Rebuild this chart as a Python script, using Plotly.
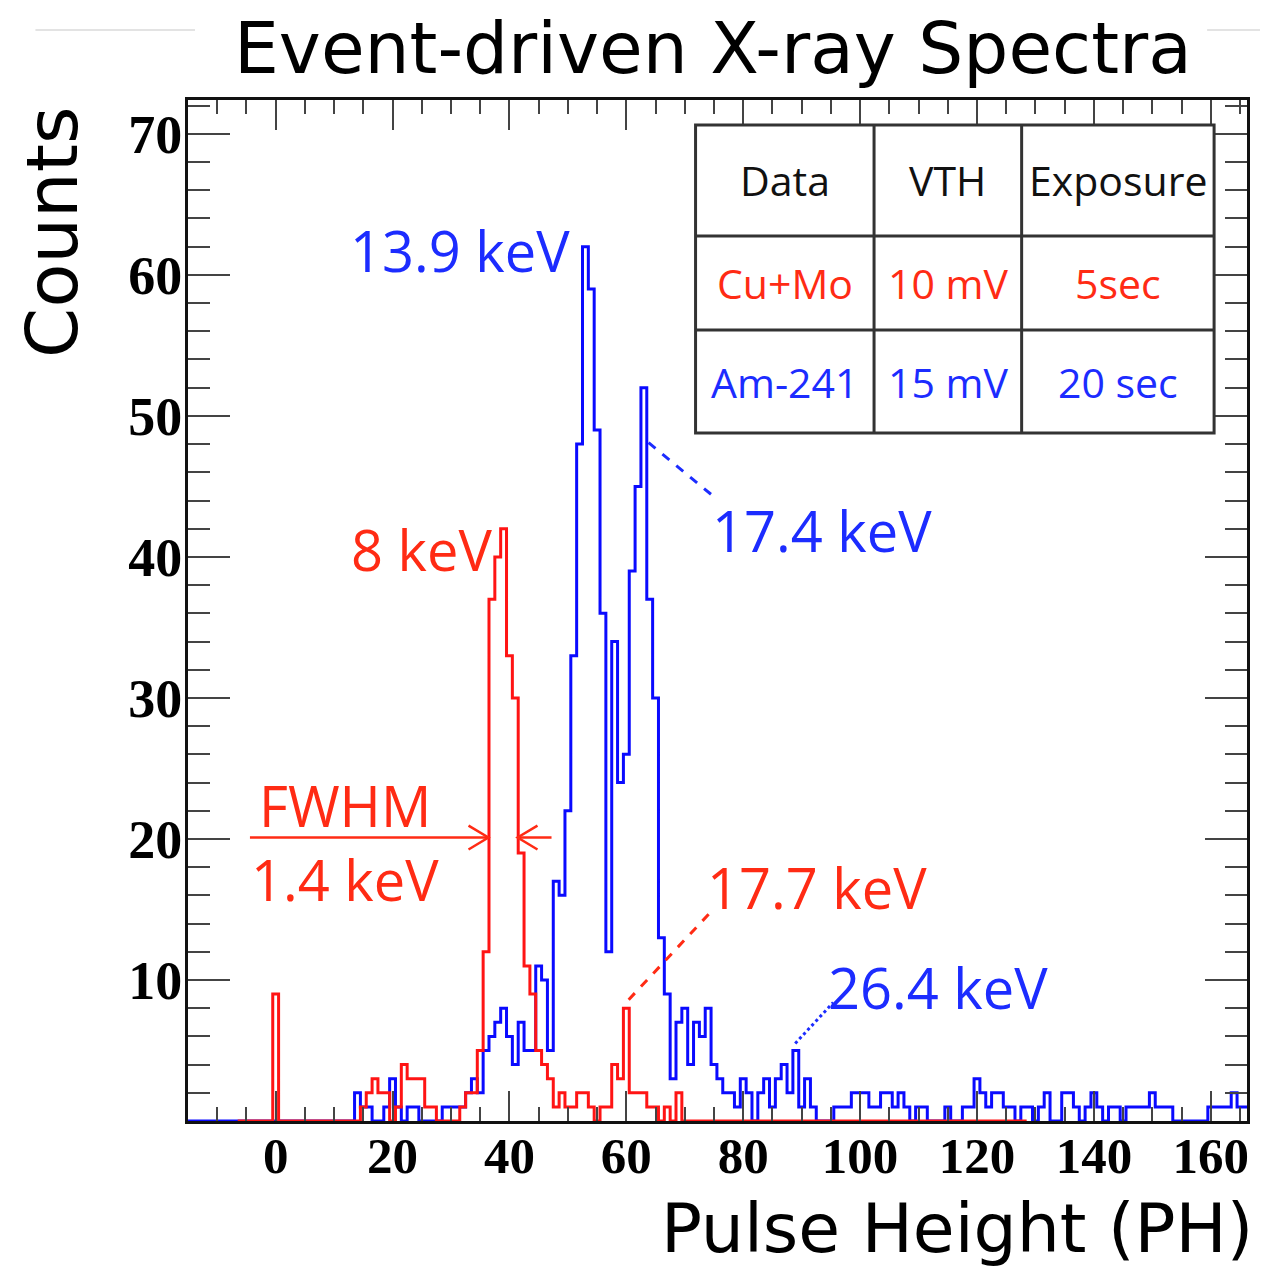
import plotly.graph_objects as go

# ---------------- data ----------------
bin_width = 1.0

blue_first_bin = -15
blue_counts = (
    [0] * 29 +                                   # -15 .. 13
    [2, 1, 1, 0, 0, 1, 3, 1, 0, 1,               # 14 .. 23
     1, 0, 0, 0, 0, 1, 1, 1, 1, 2,               # 24 .. 33
     3, 2, 5, 6, 7, 8, 6, 4, 7, 5,               # 34 .. 43
     5, 11, 10, 5, 17, 16, 22, 33, 48, 62,       # 44 .. 53
     59, 49, 36, 12, 34, 24, 26, 39, 45, 52,     # 54 .. 63
     37, 30, 13, 9, 3, 7, 8, 4, 7, 6,            # 64 .. 73
     8, 4, 3, 2, 2, 1, 3, 2, 0, 2,               # 74 .. 83
     3, 1, 3, 4, 2, 5, 1, 3, 1, 0,               # 84 .. 93
     0, 0, 1, 1, 1, 2, 2, 2, 1, 1,               # 94 .. 103
     2, 2, 1, 2, 1, 0, 1, 1, 0, 0,               # 104 .. 113
     0, 1, 0, 0, 1, 1, 3, 2, 1, 2,               # 114 .. 123
     2, 1, 1, 0, 1, 1, 0, 1, 2, 0,               # 124 .. 133
     0, 2, 2, 1, 0, 1, 2, 1, 0, 1,               # 134 .. 143
     1, 0, 1, 1, 1, 1, 2, 1, 1, 1,               # 144 .. 153
     0, 0, 0, 0, 0, 0, 1, 1, 1, 1,               # 154 .. 163
     2, 1, 1]                                    # 164 .. 166
)

red_first_bin = -6
red_counts = (
    [0] * 6 +                                    # -6 .. -1
    [9] +                                        # 0
    [0] * 14 +                                   # 1 .. 14
    [1, 2, 3, 2, 2, 0, 1, 4, 3, 3,               # 15 .. 24
     3, 1, 1, 0, 0, 0, 0, 1, 2, 2,               # 25 .. 34
     5, 12, 37, 40, 42, 33, 30, 19, 11, 9,       # 35 .. 44
     5, 4, 3, 1, 2, 1, 1, 2, 2, 1,               # 45 .. 54
     0, 1, 1, 4, 3, 8, 2, 2, 2, 1,               # 55 .. 64
     1, 0, 1, 0, 2, 0] +                         # 65 .. 70
    [0] * 58                                     # 71 .. 128
)

x_tick_vals = [0, 20, 40, 60, 80, 100, 120, 140, 160]
y_tick_vals = [0, 10, 20, 30, 40, 50, 60, 70]
y_tick_text = ["", "10", "20", "30", "40", "50", "60", "70"]

table_header = ["Data", "VTH", "Exposure"]
table_rows = [["Cu+Mo", "10 mV", "5sec"],
              ["Am-241", "15 mV", "20 sec"]]

peak_labels = [  # text, x, y, colour key
    ("13.9 keV", 31.6, 62.2, "blue"),
    ("17.4 keV", 93.5, 42.3, "blue"),
    ("26.4 keV", 113.3, 9.9, "blue"),
    ("8 keV", 24.9, 41.0, "red"),
    ("FWHM", 11.8, 22.8, "red"),
    ("1.4 keV", 11.9, 17.6, "red"),
    ("17.7 keV", 92.7, 17.0, "red"),
]

# ---------------- styles ----------------
BLUE_LINE = "#0a0aff"
RED_LINE = "#ff1414"
BLUE_TXT = "#1c2cff"
RED_TXT = "#ff2b14"
LABEL_FONT = "Open Sans"
TXT_COLORS = {"blue": BLUE_TXT, "red": RED_TXT}


def step_xy(first, counts):
    edges = [first - 0.5 * bin_width + i * bin_width for i in range(len(counts) + 1)]
    ys = list(counts) + [counts[-1]]
    return edges, ys


fig = go.Figure()
bx, by = step_xy(blue_first_bin, blue_counts)
rx, ry = step_xy(red_first_bin, red_counts)
fig.add_trace(go.Scatter(x=bx, y=by, mode="lines", line=dict(color=BLUE_LINE, width=3, shape="hv"),
                         name="Am-241", showlegend=False, hoverinfo="skip"))
fig.add_trace(go.Scatter(x=rx, y=ry, mode="lines", line=dict(color=RED_LINE, width=3, shape="hv"),
                         name="Cu+Mo", showlegend=False, hoverinfo="skip"))

# page geometry (pixels in the browser page; body has an 8px margin)
PAGE_OFF = 8
W, H = 1268 - 2 * PAGE_OFF, 1279 - 2 * PAGE_OFF
L, R, T, B = 188, 1250, 100, 1121     # frame edges in page pixels


def px(xp):
    return (xp - L) / (R - L)


def py(yp):
    return (B - yp) / (B - T)


annotations = []
for text, x, y, ck in peak_labels:
    annotations.append(dict(x=x, y=y, xref="x", yref="y", text=text, showarrow=False,
                            yshift=-6, font=dict(family=LABEL_FONT, size=56, weight=500,
                                                 color=TXT_COLORS[ck])))

# title / axis titles
annotations.append(dict(x=px(714), y=py(49), xref="paper", yref="paper", text="Event-driven X-ray Spectra",
                        showarrow=False, xanchor="center", yanchor="middle",
                        font=dict(family="DejaVu Sans", size=71, color="black")))
annotations.append(dict(x=px(51), y=py(105), xref="paper", yref="paper", text="Counts", textangle=-90,
                        showarrow=False, xanchor="center", yanchor="top",
                        font=dict(family="DejaVu Sans", size=72, color="black")))
annotations.append(dict(x=px(1258), y=py(1270), xref="paper", yref="paper", text="Pulse Height (PH)",
                        showarrow=False, xanchor="right", yanchor="bottom",
                        font=dict(family="DejaVu Sans", size=68, color="black")))

# table
col_x = [697, 876, 1024, 1217]
row_y = [125, 236, 330, 433]
shapes = []
shapes.append(dict(type="rect", xref="paper", yref="paper", x0=px(col_x[0]), x1=px(col_x[-1]),
                   y0=py(row_y[0]), y1=py(row_y[-1]), line=dict(color="#333333", width=3),
                   fillcolor="white", layer="above"))
for cx in col_x[1:-1]:
    shapes.append(dict(type="line", xref="paper", yref="paper", x0=px(cx), x1=px(cx),
                       y0=py(row_y[0]), y1=py(row_y[-1]), line=dict(color="#333333", width=3)))
for ry_ in row_y[1:-1]:
    shapes.append(dict(type="line", xref="paper", yref="paper", x0=px(col_x[0]), x1=px(col_x[-1]),
                       y0=py(ry_), y1=py(ry_), line=dict(color="#333333", width=3)))

rows_all = [table_header] + table_rows
row_cols = ["#111111", RED_TXT, BLUE_TXT]
for ri, row in enumerate(rows_all):
    yc = (row_y[ri] + row_y[ri + 1]) / 2
    for ci, txt in enumerate(row):
        xc = (col_x[ci] + col_x[ci + 1]) / 2
        annotations.append(dict(x=px(xc), y=py(yc), xref="paper", yref="paper", text=txt,
                                showarrow=False, xanchor="center", yanchor="middle",
                                font=dict(family=LABEL_FONT, size=41, weight=500, color=row_cols[ri])))

# leader lines
shapes.append(dict(type="line", xref="x", yref="y", x0=63.8, y0=48.1, x1=74.9, y1=44.3,
                   line=dict(color=BLUE_TXT, width=3, dash="dash")))
shapes.append(dict(type="line", xref="x", yref="y", x0=88.9, y0=5.5, x1=95.4, y1=8.4,
                   line=dict(color=BLUE_TXT, width=3, dash="dot")))
shapes.append(dict(type="line", xref="x", yref="y", x0=60.4, y0=8.6, x1=74.4, y1=14.8,
                   line=dict(color=RED_TXT, width=3, dash="dash")))

# FWHM arrows
fw_y = 20.1
for path in [
    [(-4.4, fw_y), (36.4, fw_y)],
    [(33.0, fw_y + 0.85), (36.4, fw_y), (33.0, fw_y - 0.85)],
    [(47.2, fw_y), (41.4, fw_y)],
    [(44.8, fw_y + 0.85), (41.4, fw_y), (44.8, fw_y - 0.85)],
]:
    d = "M " + " L ".join(f"{a},{b}" for a, b in path)
    shapes.append(dict(type="path", xref="x", yref="y", path=d, line=dict(color=RED_TXT, width=2.5)))

# faint rule behind the title
for x0, x1 in [(35, 195), (1210, 1268)]:
    shapes.append(dict(type="line", xref="paper", yref="paper", x0=px(x0), x1=px(x1), y0=py(30), y1=py(30),
                       line=dict(color="#e3e3e3", width=2)))

x_tick_font = dict(family="Liberation Serif", size=51, color="black", weight="bold")
y_tick_font = dict(family="Liberation Serif", size=54, color="black", weight="bold")

fig.update_layout(
    width=W, height=H,
    margin=dict(l=L - PAGE_OFF, r=W - (R - PAGE_OFF), t=T - PAGE_OFF, b=H - (B - PAGE_OFF)),
    paper_bgcolor="white", plot_bgcolor="white",
    showlegend=False,
    annotations=annotations,
    shapes=shapes,
    xaxis=dict(range=[-15.0, 166.2], tickmode="array", tickvals=x_tick_vals,
               ticks="inside", ticklen=30, tickwidth=2, tickcolor="#444444",
               minor=dict(dtick=5, tick0=0, ticks="inside", ticklen=14, tickwidth=2, tickcolor="#444444"),
               showline=True, linewidth=3, linecolor="#111111", mirror="ticks",
               showgrid=False, zeroline=False, tickfont=x_tick_font, ticklabelstandoff=-12),
    yaxis=dict(range=[0, 72.4], tickmode="array", tickvals=y_tick_vals, ticktext=y_tick_text,
               ticks="inside", ticklen=42, tickwidth=2, tickcolor="#444444",
               minor=dict(dtick=2, tick0=0, ticks="inside", ticklen=22, tickwidth=2, tickcolor="#444444"),
               showline=True, linewidth=3, linecolor="#111111", mirror="ticks",
               showgrid=False, zeroline=False, tickfont=y_tick_font, ticklabelstandoff=-8),
)

fig.write_html("out.html")
